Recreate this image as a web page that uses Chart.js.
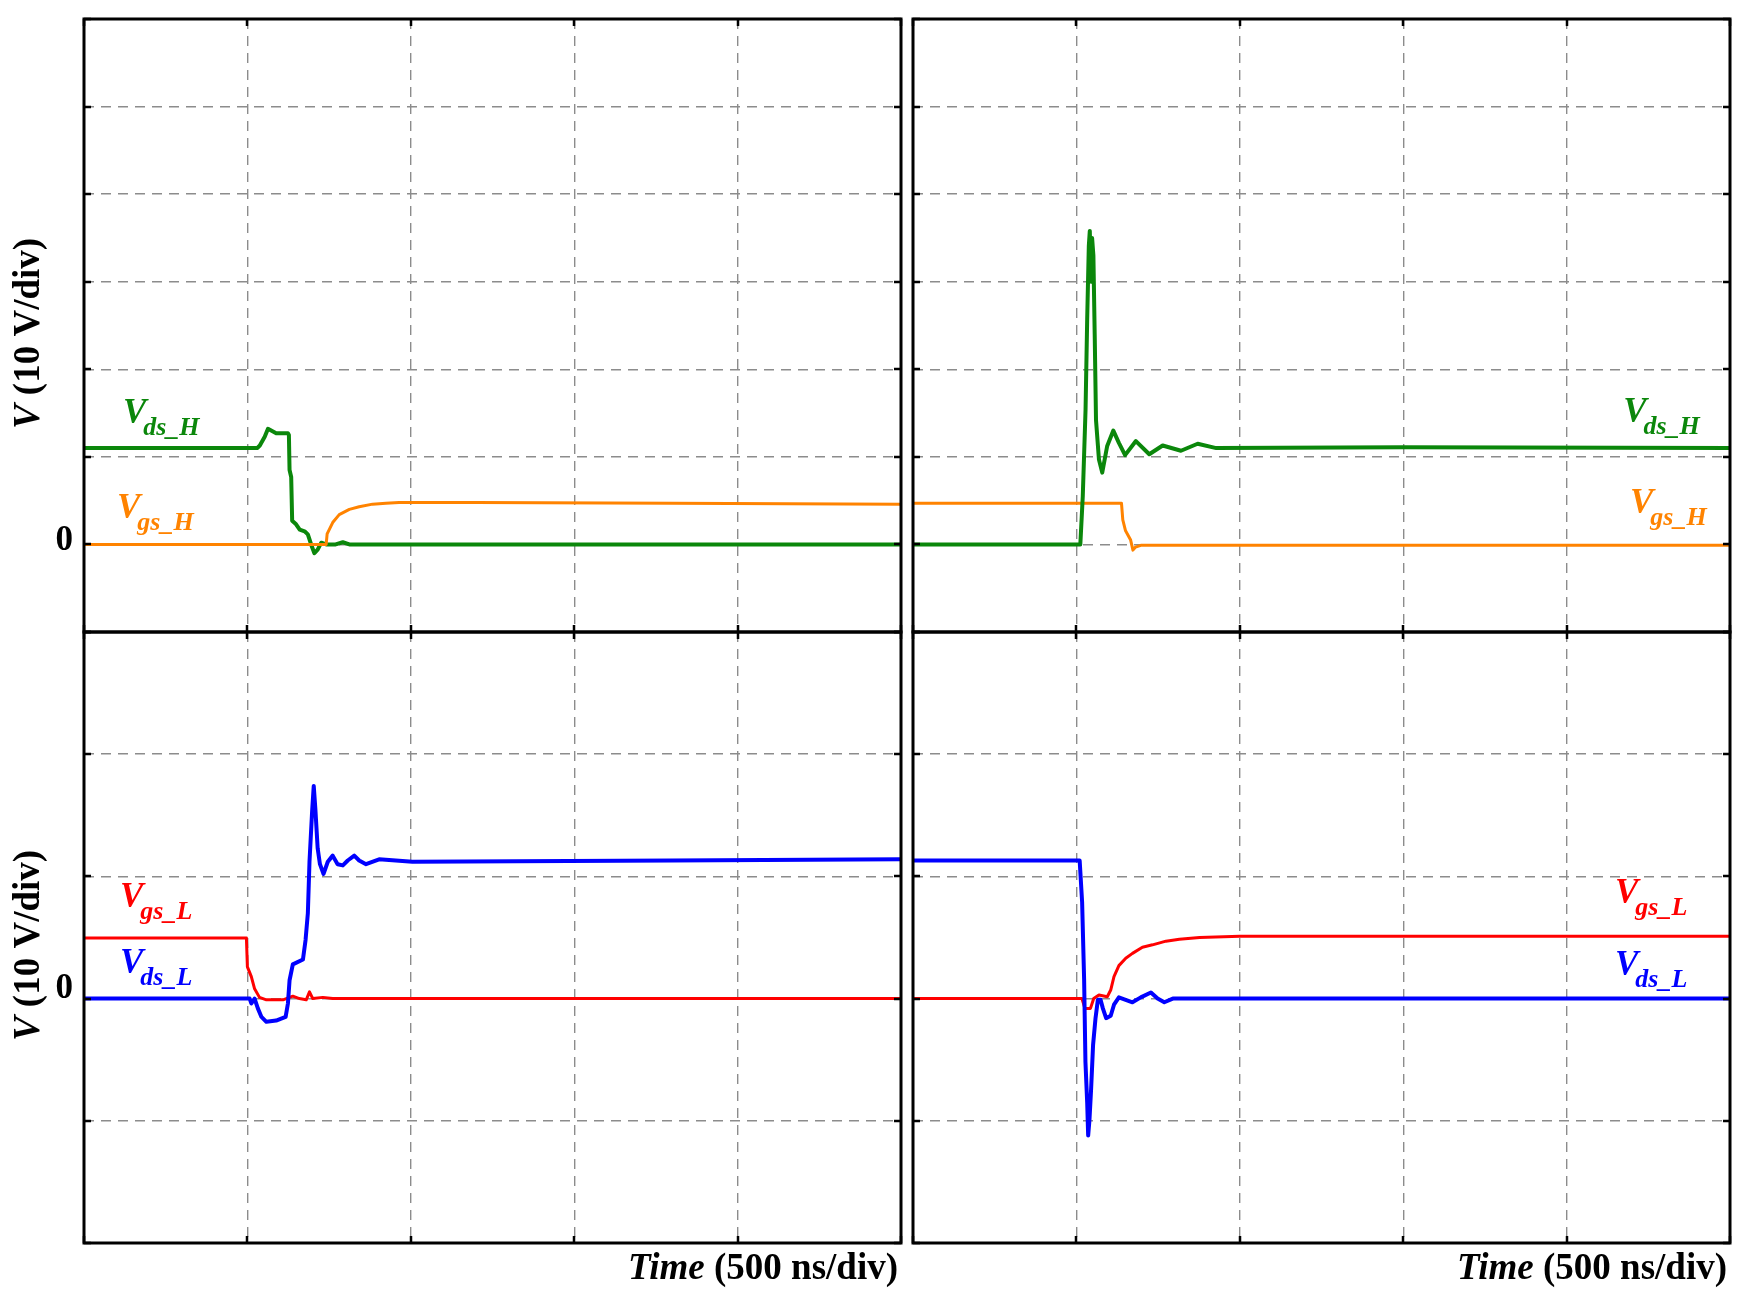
<!DOCTYPE html>
<html>
<head>
<meta charset="utf-8">
<script src="https://cdn.jsdelivr.net/npm/chart.js@4.4.1/dist/chart.umd.min.js"></script>
<style>
  html, body { margin: 0; padding: 0; background: #ffffff; }
  #wrap { position: relative; width: 1748px; height: 1297px; background: #ffffff; }
  #wrap canvas { position: absolute; left: 0; top: 0; }
</style>
</head>
<body>
<div id="wrap">
  <canvas id="cTL" width="1748" height="1297"></canvas>
  <canvas id="cTR" width="1748" height="1297"></canvas>
  <canvas id="cBL" width="1748" height="1297"></canvas>
  <canvas id="cBR" width="1748" height="1297"></canvas>
</div>
<script>
// ---------------- DATA (time in ns, voltage in V; 500 ns/div, 10 V/div) ----------------
const timeRange = [0, 2500];
const timeStep = 500;
const voltStep = 10;
const topVoltRange = [-10, 60];
const bottomVoltRange = [-20, 30];
const zeroTickLabel = '0';
const yTitleMain = 'V';
const yTitleRest = ' (10 V/div)';
const xTitleMain = 'Time';
const xTitleRest = ' (500 ns/div)';

// Top-left: Vds_H and Vgs_H
const tVdsH_left = [0, 530, 538, 553, 563, 588, 624, 627, 629, 634, 637, 649, 660, 675, 685, 695, 705, 715, 726, 741, 770, 792, 812, 1000, 1500, 2000, 2500];
const vVdsH_left = [11.0, 11.0, 11.3, 12.3, 13.2, 12.7, 12.7, 12.5, 8.5, 7.7, 2.7, 2.3, 1.7, 1.5, 1.15, 0.0, -1.0, -0.6, 0.2, 0.0, 0.0, 0.25, 0.0, 0.0, 0.0, 0.0, 0.0];
const tVgsH_left = [0, 741, 744, 761, 781, 812, 842, 883, 924, 964, 1200, 1800, 2500];
const vVgsH_left = [0, 0, 1.2, 2.5, 3.4, 4.0, 4.3, 4.6, 4.7, 4.8, 4.8, 4.7, 4.6];

// Top-right: Vds_H and Vgs_H
const tVdsH_right = [0, 512, 519.5, 528, 533, 538, 541, 545, 548, 552, 556, 560, 569, 579, 594, 613, 630, 649, 682, 723, 764, 820, 871, 928, 1500, 2500];
const vVdsH_right = [0, 0, 5.5, 15.4, 25.7, 34.1, 35.8, 30.0, 35.0, 33.0, 24.0, 14.2, 9.7, 8.2, 11.2, 13.0, 11.6, 10.2, 11.8, 10.3, 11.3, 10.7, 11.5, 11.0, 11.1, 11.0];
const tVgsH_right = [0, 638, 642, 650, 666, 673, 681, 697, 1500, 2500];
const vVgsH_right = [4.7, 4.7, 2.8, 1.6, 0.5, -0.65, -0.3, -0.1, -0.1, -0.1];

// Bottom-left: Vgs_L and Vds_L
const tVgsL_left = [0, 497, 500, 512, 522, 537, 558, 609, 639, 659, 680, 690, 700, 731, 761, 2500];
const vVgsL_left = [4.95, 4.95, 2.6, 1.8, 0.8, 0.1, -0.1, -0.1, 0.2, 0, -0.1, 0.55, 0, 0.1, 0, 0];
const tVdsL_left = [0, 507, 512, 522, 532, 543, 558, 588, 617, 624, 629, 639, 670, 678, 685, 690, 698, 703, 708, 715, 722, 733, 746, 761, 776, 792, 807, 827, 842, 863, 903, 1005, 1800, 2500];
const vVdsL_left = [0, 0, -0.4, 0, -0.8, -1.5, -1.9, -1.8, -1.5, -0.4, 1.5, 2.8, 3.2, 4.8, 7.0, 11.2, 15.3, 17.4, 15.5, 12.3, 11.0, 10.2, 11.2, 11.7, 11.0, 10.9, 11.3, 11.7, 11.3, 11.0, 11.4, 11.2, 11.3, 11.4];

// Bottom-right: Vgs_L and Vds_L
const tVgsL_right = [0, 517, 526, 543, 553, 569, 594.5, 605, 615, 630, 651, 671.5, 702, 733, 774, 815, 877, 1000, 2500];
const vVgsL_right = [0, 0, -0.8, -0.8, 0, 0.3, 0.15, 0.7, 1.8, 2.7, 3.3, 3.7, 4.2, 4.4, 4.7, 4.85, 5.0, 5.1, 5.1];
const tVdsL_right = [0, 510, 517.5, 523.6, 527.7, 533, 536, 540, 545, 551, 558.5, 565.7, 574, 581, 591, 605, 615, 630, 671.5, 697, 728, 748.5, 769, 795, 2500];
const vVdsL_right = [11.3, 11.3, 7.9, 1.6, -5.2, -8.5, -11.2, -9.9, -7.4, -3.8, -1.6, -0.1, -0.1, -0.8, -1.6, -1.4, -0.5, 0.1, -0.3, 0.1, 0.5, 0, -0.3, 0, 0];

// Series label texts
const labelMain = 'V';
const subDsH = 'ds_H', subGsH = 'gs_H', subGsL = 'gs_L', subDsL = 'ds_L';

// ---------------- STYLE / LAYOUT ----------------
const GREEN = '#0b870b', ORANGE = '#ff8300', BLUE = '#0000ff', RED = '#ff0000';
const SERIF = '"Liberation Serif", "Times New Roman", serif';
const W = 1748, H = 1297;
const panels = {
  TL: { left: 84, top: 19, right: 901, bottom: 632 },
  TR: { left: 913, top: 19, right: 1730, bottom: 632 },
  BL: { left: 84, top: 632, right: 901, bottom: 1243 },
  BR: { left: 913, top: 632, right: 1730, bottom: 1243 }
};
// label anchor positions (data coordinates of each panel)
const labelPos = {
  TL: [{ t: 119, v: 13.9, sub: subDsH, color: GREEN }, { t: 101, v: 3.0, sub: subGsH, color: ORANGE }],
  TR: [{ t: 2173, v: 14.0, sub: subDsH, color: GREEN }, { t: 2194, v: 3.6, sub: subGsH, color: ORANGE }],
  BL: [{ t: 110, v: 7.5, sub: subGsL, color: RED }, { t: 110, v: 2.1, sub: subDsL, color: BLUE }],
  BR: [{ t: 2148, v: 7.85, sub: subGsL, color: RED }, { t: 2148, v: 1.93, sub: subDsL, color: BLUE }]
};

function pts(ts, vs) { return ts.map((t, i) => ({ x: t, y: vs[i] })); }

const decorPlugin = {
  id: 'decor',
  afterDatasetsDraw(chart, args, o) {
    const ctx = chart.ctx, a = chart.chartArea;
    const xs = chart.scales.x, ys = chart.scales.y;
    ctx.save();
    // inward tick marks
    ctx.strokeStyle = '#000';
    ctx.lineWidth = 2.5;
    ctx.setLineDash([]);
    xs.ticks.forEach(tk => {
      const px = Math.round(xs.getPixelForValue(tk.value));
      ctx.beginPath();
      ctx.moveTo(px, a.bottom); ctx.lineTo(px, a.bottom - 7);
      ctx.moveTo(px, a.top); ctx.lineTo(px, a.top + 7);
      ctx.stroke();
    });
    ys.ticks.forEach(tk => {
      const py = Math.round(ys.getPixelForValue(tk.value));
      ctx.beginPath();
      ctx.moveTo(a.left, py); ctx.lineTo(a.left + 7, py);
      ctx.moveTo(a.right, py); ctx.lineTo(a.right - 7, py);
      ctx.stroke();
    });
    // frame
    ctx.lineWidth = 3;
    ctx.strokeRect(a.left, a.top, a.right - a.left, a.bottom - a.top);
    // series labels
    ctx.textAlign = 'left';
    ctx.textBaseline = 'alphabetic';
    (o.labels || []).forEach(l => {
      const px = xs.getPixelForValue(l.t), py = ys.getPixelForValue(l.v);
      ctx.fillStyle = l.color;
      ctx.font = 'italic bold 35px ' + SERIF;
      ctx.fillText(labelMain, px, py);
      const w = ctx.measureText(labelMain).width;
      ctx.font = 'italic bold 26px ' + SERIF;
      ctx.fillText(l.sub, px + w - 3, py + 12);
    });
    // y title
    if (o.yTitle) {
      ctx.fillStyle = '#000';
      const cy = (a.top + a.bottom) / 2 + 8;
      ctx.translate(29, cy);
      ctx.rotate(-Math.PI / 2);
      ctx.textBaseline = 'middle';
      ctx.font = 'italic bold 37px ' + SERIF;
      const w1 = ctx.measureText(yTitleMain).width;
      ctx.font = 'bold 37px ' + SERIF;
      const w2 = ctx.measureText(yTitleRest).width;
      const x0 = -(w1 + w2) / 2;
      ctx.font = 'italic bold 37px ' + SERIF;
      ctx.fillText(yTitleMain, x0, 0);
      ctx.font = 'bold 37px ' + SERIF;
      ctx.fillText(yTitleRest, x0 + w1, 0);
      ctx.setTransform(1, 0, 0, 1, 0, 0);
    }
    // x title
    if (o.xTitle) {
      ctx.fillStyle = '#000';
      ctx.textBaseline = 'alphabetic';
      ctx.font = 'bold 37px ' + SERIF;
      const w2 = ctx.measureText(xTitleRest).width;
      ctx.font = 'italic bold 37px ' + SERIF;
      const w1 = ctx.measureText(xTitleMain).width;
      const xr = a.right - 3, yb = a.bottom + 36;
      ctx.fillText(xTitleMain, xr - w2 - w1, yb);
      ctx.font = 'bold 37px ' + SERIF;
      ctx.fillText(xTitleRest, xr - w2, yb);
    }
    ctx.restore();
  }
};

function makeChart(id, key, yRange, series, showZero, yTitle, xTitle, zeroLift) {
  const p = panels[key];
  return new Chart(document.getElementById(id), {
    type: 'line',
    data: {
      datasets: series.map(s => ({
        data: pts(s.t, s.v),
        borderColor: s.color,
        borderWidth: s.width,
        pointRadius: 0,
        tension: 0,
        fill: false,
        borderJoinStyle: 'round'
      }))
    },
    options: {
      responsive: false,
      animation: false,
      devicePixelRatio: 1,
      events: [],
      layout: { padding: { left: 0, top: p.top, right: W - p.right, bottom: H - p.bottom } },
      plugins: {
        legend: { display: false },
        tooltip: { enabled: false },
        decor: { labels: labelPos[key], yTitle: yTitle, xTitle: xTitle }
      },
      scales: {
        x: {
          type: 'linear',
          min: timeRange[0], max: timeRange[1],
          ticks: { stepSize: timeStep, display: false },
          grid: { color: '#8c8c8c', lineWidth: 1.4, drawTicks: false },
          border: { display: false, dash: [10, 7] },
          afterFit(s) { s.height = 0; s.paddingLeft = 0; s.paddingRight = 0; }
        },
        y: {
          type: 'linear',
          min: yRange[0], max: yRange[1],
          ticks: {
            stepSize: voltStep,
            display: showZero,
            padding: 11,
            labelOffset: -zeroLift,
            color: '#000',
            autoSkip: false,
            font: { family: SERIF, size: 35, weight: 'bold' },
            callback: v => (Math.abs(v) < 1e-9 ? zeroTickLabel : '')
          },
          grid: { color: '#8c8c8c', lineWidth: 1.4, drawTicks: false },
          border: { display: false, dash: [10, 7] },
          afterFit(s) { s.width = p.left; s.paddingTop = 0; s.paddingBottom = 0; }
        }
      }
    },
    plugins: [decorPlugin]
  });
}

makeChart('cTL', 'TL', topVoltRange, [
  { t: tVgsH_left, v: vVgsH_left, color: ORANGE, width: 3 },
  { t: tVdsH_left, v: vVdsH_left, color: GREEN, width: 4 }
], true, true, false, 3);

makeChart('cTR', 'TR', topVoltRange, [
  { t: tVdsH_right, v: vVdsH_right, color: GREEN, width: 4 },
  { t: tVgsH_right, v: vVgsH_right, color: ORANGE, width: 3 }
], false, false, false, 0);

makeChart('cBL', 'BL', bottomVoltRange, [
  { t: tVdsL_left, v: vVdsL_left, color: BLUE, width: 4 },
  { t: tVgsL_left, v: vVgsL_left, color: RED, width: 3 }
], true, true, true, 10);

makeChart('cBR', 'BR', bottomVoltRange, [
  { t: tVdsL_right, v: vVdsL_right, color: BLUE, width: 4 },
  { t: tVgsL_right, v: vVgsL_right, color: RED, width: 3 }
], false, false, true, 0);
</script>
</body>
</html>
